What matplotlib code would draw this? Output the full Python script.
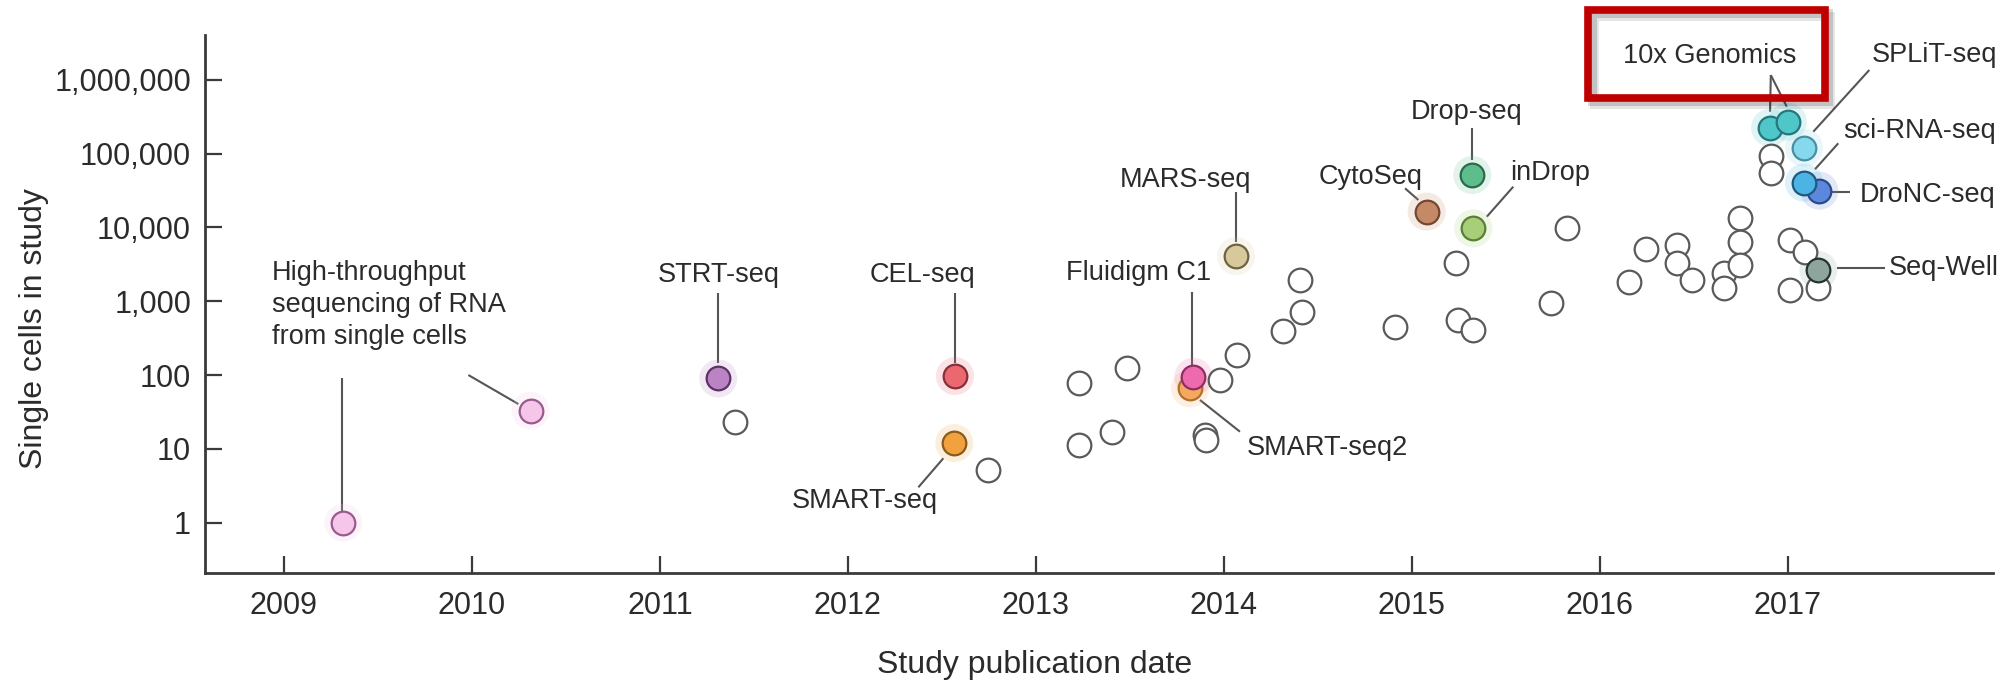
import matplotlib
matplotlib.use("Agg")
import matplotlib.pyplot as plt
from matplotlib.patches import Rectangle
from matplotlib.transforms import offset_copy
from matplotlib.ticker import FixedLocator, NullLocator

plt.rcParams['font.family'] = ['Liberation Sans', 'DejaVu Sans']

# ---------------- data ----------------
# highlighted methods (one entry per coloured point)
method_names = ["High-throughput", "High-throughput", "STRT-seq", "CEL-seq", "SMART-seq",
                "SMART-seq2", "Fluidigm C1", "MARS-seq", "CytoSeq", "Drop-seq", "inDrop",
                "10x Genomics", "10x Genomics", "SPLiT-seq", "DroNC-seq", "sci-RNA-seq", "Seq-Well"]
method_years = [2009.316, 2010.312, 2011.310, 2012.570, 2012.566,
                2013.820, 2013.838, 2014.065, 2015.079, 2015.322, 2015.327,
                2016.906, 2017.000, 2017.087, 2017.168, 2017.087, 2017.163]
method_cells = [1, 33, 90, 97, 12,
                66, 95, 4100, 16400, 51400, 9750,
                225000, 271500, 120600, 31550, 40450, 2655]

# other studies (open circles)
other_years = [2011.399, 2012.747, 2013.231, 2013.483, 2013.231, 2013.404, 2013.980, 2014.068,
               2013.900, 2013.905, 2014.317, 2014.414, 2014.406, 2014.911, 2015.235, 2015.247,
               2015.327, 2015.739, 2015.824, 2016.158, 2016.247, 2016.413, 2016.413, 2016.489,
               2016.661, 2016.661, 2016.746, 2016.746, 2016.746, 2016.909, 2016.909, 2017.013,
               2017.093, 2017.013, 2017.163]
other_cells = [23, 5.2, 77, 124, 11.3, 17, 86, 187,
               15.4, 13.3, 390, 720, 1950, 450, 3340, 560,
               410, 940, 9750, 1850, 5100, 5800, 3270, 1950,
               2400, 1500, 13300, 6400, 3100, 93000, 55000, 6800,
               4700, 1420, 1500]

xtick_values = [2009, 2010, 2011, 2012, 2013, 2014, 2015, 2016, 2017]
xtick_labels = ["2009", "2010", "2011", "2012", "2013", "2014", "2015", "2016", "2017"]
ytick_values = [1, 10, 100, 1000, 10000, 100000, 1000000]
ytick_labels = ["1", "10", "100", "1,000", "10,000", "100,000", "1,000,000"]

# ---------------- styles ----------------
method_fill = {"High-throughput": "#F5C6EA", "STRT-seq": "#B983C4", "CEL-seq": "#EC6870",
               "SMART-seq": "#F2A13F", "SMART-seq2": "#F5A860", "Fluidigm C1": "#EE6AAE",
               "MARS-seq": "#D7C99C", "CytoSeq": "#C48A68", "Drop-seq": "#5DBE8C",
               "inDrop": "#A6CF78", "10x Genomics": "#4FC6C8", "SPLiT-seq": "#86D8EC",
               "DroNC-seq": "#5B88DE", "sci-RNA-seq": "#4CB4E4", "Seq-Well": "#8DA59D"}
method_edge = {"High-throughput": "#9A5A8E", "STRT-seq": "#5E3266", "CEL-seq": "#86303A",
               "SMART-seq": "#8A5A1E", "SMART-seq2": "#B07030", "Fluidigm C1": "#8E2E62",
               "MARS-seq": "#6E6444", "CytoSeq": "#74472F", "Drop-seq": "#2C6A4A",
               "inDrop": "#5C7E38", "10x Genomics": "#27767C", "SPLiT-seq": "#4A8EA2",
               "DroNC-seq": "#2C4A88", "sci-RNA-seq": "#22577E", "Seq-Well": "#26332F"}

TEXT_C = "#2b2b2b"
LINE_C = "#555555"
AX_C = "#3a3a3a"
FS = 19.5

# label text positions (layout) : (text, x, y, ha, va)
label_layout = [
    ("High-throughput\nsequencing of RNA\nfrom single cells", 2008.935, 10**3.56, "left", "top"),
    ("STRT-seq", 2011.311, 10**3.36, "center", "center"),
    ("CEL-seq", 2012.398, 10**3.36, "center", "center"),
    ("SMART-seq", 2012.091, 10**0.30, "center", "center"),
    ("MARS-seq", 2013.794, 10**4.645, "center", "center"),
    ("Fluidigm C1", 2013.544, 10**3.39, "center", "center"),
    ("SMART-seq2", 2014.122, 10**1.01, "left", "center"),
    ("CytoSeq", 2014.783, 10**4.685, "center", "center"),
    ("Drop-seq", 2015.292, 10**5.57, "center", "center"),
    ("inDrop", 2015.735, 10**4.735, "center", "center"),
    ("10x Genomics", 2016.585, 10**6.325, "center", "center"),
    ("SPLiT-seq", 2017.447, 10**6.337, "left", "center"),
    ("sci-RNA-seq", 2017.293, 10**5.312, "left", "center"),
    ("DroNC-seq", 2017.381, 10**4.44, "left", "center"),
    ("Seq-Well", 2017.536, 10**3.447, "left", "center"),
]

# leader line segments (layout): ((x0, log y0), (x1, log y1))
leader_layout = [
    ((2009.307, 1.961), (2009.307, 0.131)),
    ((2009.981, 2.001), (2010.247, 1.608)),
    ((2011.311, 3.108), (2011.311, 2.160)),
    ((2012.570, 3.108), (2012.570, 2.160)),
    ((2012.375, 0.480), (2012.508, 0.873)),
    ((2014.065, 4.485), (2014.065, 3.808)),
    ((2013.829, 3.130), (2013.829, 2.092)),
    ((2013.873, 1.663), (2014.086, 1.233)),
    ((2014.964, 4.531), (2015.035, 4.373)),
    ((2015.322, 5.344), (2015.322, 4.915)),
    ((2015.540, 4.553), (2015.399, 4.146)),
    ((2016.910, 6.066), (2016.906, 5.569)),
    ((2016.910, 6.066), (2016.995, 5.637)),
    ((2017.136, 5.298), (2017.434, 6.134)),
    ((2017.145, 4.789), (2017.269, 5.141)),
    ((2017.234, 4.485), (2017.332, 4.485)),
    ((2017.262, 3.447), (2017.520, 3.447)),
]

# ---------------- figure ----------------
fig = plt.figure(figsize=(20.13, 6.86), dpi=100)
ax = fig.add_axes([0.10184, 0.16429, 0.88822, 0.78469])
ax.set_yscale("log")
ax.set_xlim(2008.580, 2018.092)
ax.set_ylim(10**-0.6856, 10**6.6084)

# leader lines
for (x0, ly0), (x1, ly1) in leader_layout:
    ax.plot([x0, x1], [10**ly0, 10**ly1], color=LINE_C, lw=1.5, zorder=2,
            solid_capstyle="butt")

# open circles
ax.scatter(other_years, other_cells, s=290, facecolors="white", edgecolors="#5a5a5a",
           linewidths=1.6, zorder=3)

# coloured points with soft glow
fills = [method_fill[n] for n in method_names]
edges = [method_edge[n] for n in method_names]
ax.scatter(method_years, method_cells, s=750, c=fills, alpha=0.18, linewidths=0, zorder=2.5)
for x, y, f, e in zip(method_years, method_cells, fills, edges):
    ax.scatter([x], [y], s=290, c=[f], edgecolors=[e], linewidths=1.6, zorder=4)

# labels
for text, x, y, ha, va in label_layout:
    ax.text(x, y, text, ha=ha, va=va, fontsize=FS, color=TEXT_C, linespacing=1.3,
            zorder=5, clip_on=False)

# red highlight box around 10x Genomics (with soft shadow)
bx0, bx1 = 2015.94, 2017.197
by0, by1 = 10**5.755, 10**6.947
shadow_tr = offset_copy(ax.transData, fig=fig, x=3, y=-3, units="points")
for k, a in ((4, 0.10), (2.5, 0.15)):
    tr = offset_copy(ax.transData, fig=fig, x=k, y=-k, units="points")
    ax.add_patch(Rectangle((bx0, by0), bx1 - bx0, by1 - by0, fill=False,
                           edgecolor="#000000", alpha=a, lw=6.5, clip_on=False,
                           zorder=5.5, transform=tr))
ax.add_patch(Rectangle((bx0, by0), bx1 - bx0, by1 - by0, fill=False,
                       edgecolor="#C00000", lw=5.5, clip_on=False, zorder=6))

# axes styling
for side in ("top", "right"):
    ax.spines[side].set_visible(False)
for side in ("left", "bottom"):
    ax.spines[side].set_color(AX_C)
    ax.spines[side].set_linewidth(2.0)

ax.xaxis.set_major_locator(FixedLocator(xtick_values))
ax.set_xticklabels(xtick_labels)
ax.yaxis.set_major_locator(FixedLocator(ytick_values))
ax.yaxis.set_minor_locator(NullLocator())
ax.set_yticklabels(ytick_labels)
ax.tick_params(axis="both", direction="in", length=12.5, width=1.6, color=AX_C,
               labelsize=22, labelcolor=TEXT_C)
ax.tick_params(axis="y", pad=10)
ax.tick_params(axis="x", pad=13)

ax.set_xlabel("Study publication date", fontsize=23, color=TEXT_C)
ax.xaxis.set_label_coords(0.4642, -0.1704)
ax.xaxis.label.set_verticalalignment("center")
ax.set_ylabel("Single cells in study", fontsize=23, color=TEXT_C)
ax.yaxis.set_label_coords(-0.0956, 0.4538)
ax.yaxis.label.set_verticalalignment("center")

fig.savefig("out.png", dpi=100)
